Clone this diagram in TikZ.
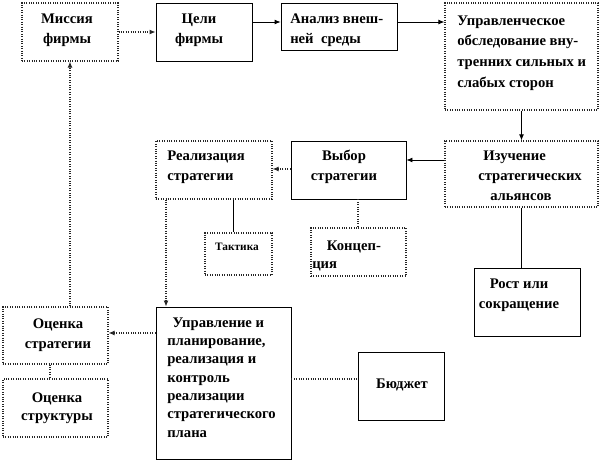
\documentclass[tikz,border=0pt]{standalone}
\usepackage{fontspec}
\setmainfont{Liberation Serif}
\usetikzlibrary{arrows.meta,fit}
\begin{document}
\begin{tikzpicture}[x=0.75pt,y=-0.75pt,
 sbox/.style={draw=black,line width=0.6pt,inner sep=0pt},
 dbox/.style={draw=black!85,densely dotted,line width=0.8pt,inner sep=0pt},
 txt/.style={font=\fontsize{11}{15}\selectfont\bfseries,inner sep=0pt},
 sline/.style={draw=black,line width=0.6pt},
 dline/.style={draw=black!85,densely dotted,line width=0.8pt},
 tip/.style={-{Latex[length=4.5pt,width=3.6pt]}}
]
\fill[white] (0,0) rectangle (601,464);
\useasboundingbox (0,0) rectangle (601,464);
% boxes
\node[dbox,fit={(22,3) (118,61)}] (mis) {};
\node[sbox,fit={(156,3) (252,61)}] (cel) {};
\node[sbox,fit={(281,3) (397,50)}] (ana) {};
\node[dbox,fit={(445,3) (598,110)}] (obs) {};
\node[dbox,fit={(445,141) (598,207)}] (izu) {};
\node[sbox,fit={(291,141) (406,199)}] (vyb) {};
\node[dbox,fit={(156,141) (272,199)}] (rea) {};
\node[dbox,fit={(205,233) (272,275)}] (tak) {};
\node[dbox,fit={(311,228) (406,276)}] (kon) {};
\node[sbox,fit={(474,268) (580,336)}] (ros) {};
\node[dbox,fit={(3,307) (108,364)}] (oss) {};
\node[dbox,fit={(3,379) (108,437)}] (ost) {};
\node[sbox,fit={(156,307) (291,459)}] (upr) {};
\node[sbox,fit={(358,352) (444,420)}] (bud) {};
% texts (anchor=base is the baseline of the last line)
\node[txt,align=center,anchor=base] (mis-t) at (67,43) {Миссия\\фирмы};
\node[txt,align=center,anchor=base] (cel-t) at (199,43) {Цели\\фирмы};
\node[txt,align=left,anchor=base west] (ana-t) at (290,43) {Анализ внеш-\\ней\ \ среды};
\node[txt,align=left,anchor=base west,font=\fontsize{11}{15.5}\selectfont\bfseries] (obs-t) at (457,87) {Управленческое\\обследование вну-\\тренних сильных и\\слабых сторон};
\node[txt,align=left,anchor=base west] (izu-t) at (478,200) {\hspace{3.75pt}Изучение\\стратегических\\\hspace{9pt}альянсов};
\node[txt,align=center,anchor=base] (vyb-t) at (344,180) {Выбор\\стратегии};
\node[txt,align=left,anchor=base west] (rea-t) at (167,180) {Реализация\\стратегии};
\node[txt,anchor=base,font=\fontsize{8.5}{12}\selectfont\bfseries] (tak-t) at (237,250) {Тактика};
\node[txt,align=left,anchor=base west,font=\fontsize{11}{13.5}\selectfont\bfseries] (kon-t) at (312,268) {\hspace{11pt}Концеп-\\ция};
\node[txt,align=center,anchor=base,font=\fontsize{11}{14.5}\selectfont\bfseries] (ros-t) at (519,308) {Рост или\\сокращение};
\node[txt,align=center,anchor=base] (oss-t) at (58,348) {Оценка\\стратегии};
\node[txt,align=center,anchor=base,font=\fontsize{11}{13}\selectfont\bfseries] (ost-t) at (57,420) {Оценка\\структуры};
\node[txt,align=left,anchor=base west,font=\fontsize{11}{13.7}\selectfont\bfseries] (upr-t) at (167,437) {\hspace{4pt}Управление и\\планирование,\\реализация и\\контроль\\реализации\\стратегического\\плана};
\node[txt,anchor=base] (bud-t) at (402,388) {Бюджет};
% helper coordinates
\coordinate (h22) at (0,22);
\coordinate (h160) at (0,160);
\coordinate (h169) at (0,169);
\coordinate (h333) at (0,333);
\coordinate (h379) at (0,379);
\coordinate (v233) at (233,0);
\coordinate (v358) at (358,0);
\coordinate (v166) at (166,0);
\coordinate (v70) at (70,0);
\coordinate (v50) at (50,0);
% connectors
\draw[dline,tip] (mis) -- (cel);
\draw[sline,tip] (cel.east |- h22) -- (ana.west |- h22);
\draw[sline,tip] (ana.east |- h22) -- (obs.west |- h22);
\draw[sline,tip] (obs.south) -- (izu.north);
\draw[sline,tip] (izu.west |- h160) -- (vyb.east |- h160);
\draw[dline,tip] (vyb.west |- h169) -- (rea.east |- h169);
\draw[sline] (rea.south -| v233) -- (tak.north -| v233);
\draw[dline] (vyb.south -| v358) -- (kon.north -| v358);
\draw[dline,tip] (rea.south -| v166) -- (upr.north -| v166);
\draw[sline] (izu.south) -- (izu.south |- ros.north);
\draw[dline,tip] (upr.west |- h333) -- (oss.east |- h333);
\draw[dline,tip] (oss.north -| v70) -- (mis.south -| v70);
\draw[dline] (oss.south -| v50) -- (ost.north -| v50);
\draw[dline] (upr.east |- h379) -- (bud.west |- h379);
\end{tikzpicture}
\end{document}
